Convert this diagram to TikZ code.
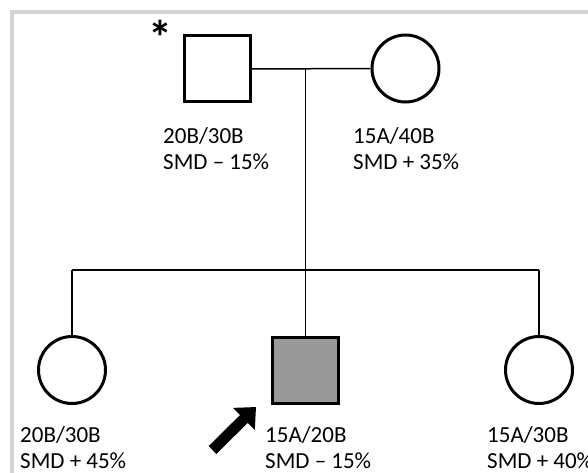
\documentclass[tikz,border=0pt]{standalone}
\usepackage{fontspec}
\setmainfont{Carlito}
\usetikzlibrary{arrows.meta}
\definecolor{framegray}{HTML}{D4D4D4}
\definecolor{affected}{HTML}{999999}
\tikzset{
  male/.style={draw=black, line width=3pt, minimum size=66pt, inner sep=0pt, fill=white},
  female/.style={draw=black, line width=3pt, circle, minimum size=67pt, inner sep=0pt, fill=white},
  link/.style={draw=black, line width=1.5pt},
  lab/.style={anchor=base west, inner sep=0pt, align=left,
    font=\fontsize{23pt}{26pt}\selectfont},
}
\begin{document}
\begin{tikzpicture}[x=1pt, y=-1pt]
  \useasboundingbox (0,0) rectangle (588,473);
  % light frame along the top and left edges
  \fill[framegray] (10,10) rectangle (588,14);
  \fill[framegray] (10,10) rectangle (14,473);

  % parents
  \node[male] (father) at (217,69) {};
  \node[female] (mother) at (405.5,68.5) {};
  \node[inner sep=0pt, anchor=center, font=\fontsize{48pt}{48pt}\selectfont\bfseries] (star) at (160.5,37) {*};

  % children
  \node[female] (c1) at (72,370) {};
  \node[male, fill=affected] (c2) at (305.5,370) {};
  \node[female] (c3) at (539,370) {};

  % mating, descent and sibship lines
  \coordinate (mid) at (305.5,69.3);
  \coordinate (sl) at (72,270);
  \coordinate (sm) at (305.5,270);
  \coordinate (sr) at (539,270);
  \draw[link] (father.east) -- (mother.west);
  \draw[link] (mid) -- (sm);
  \draw[link] (sl) -- (sr);
  \draw[link] (sl) -- (c1.north);
  \draw[link] (sm) -- (c2.north);
  \draw[link] (sr) -- (c3.north);

  % proband arrow
  \coordinate (arrtail) at (212.5,450);
  \coordinate (arrtip) at (256,407);
  \draw[line width=11pt, -{Triangle[length=17pt, width=30pt]}] (arrtail) -- (arrtip);

  % genotype and SMD labels (anchored at the second line's baseline)
  \node[lab] (lfather) at (163,169) {20B/30B\\SMD – 15\%};
  \node[lab] (lmother) at (353,169) {15A/40B\\SMD + 35\%};
  \node[lab] (lc1) at (20,468) {20B/30B\\SMD + 45\%};
  \node[lab] (lc2) at (265,468) {15A/20B\\SMD – 15\%};
  \node[lab] (lc3) at (487,468) {15A/30B\\SMD + 40\%};
\end{tikzpicture}
\end{document}
